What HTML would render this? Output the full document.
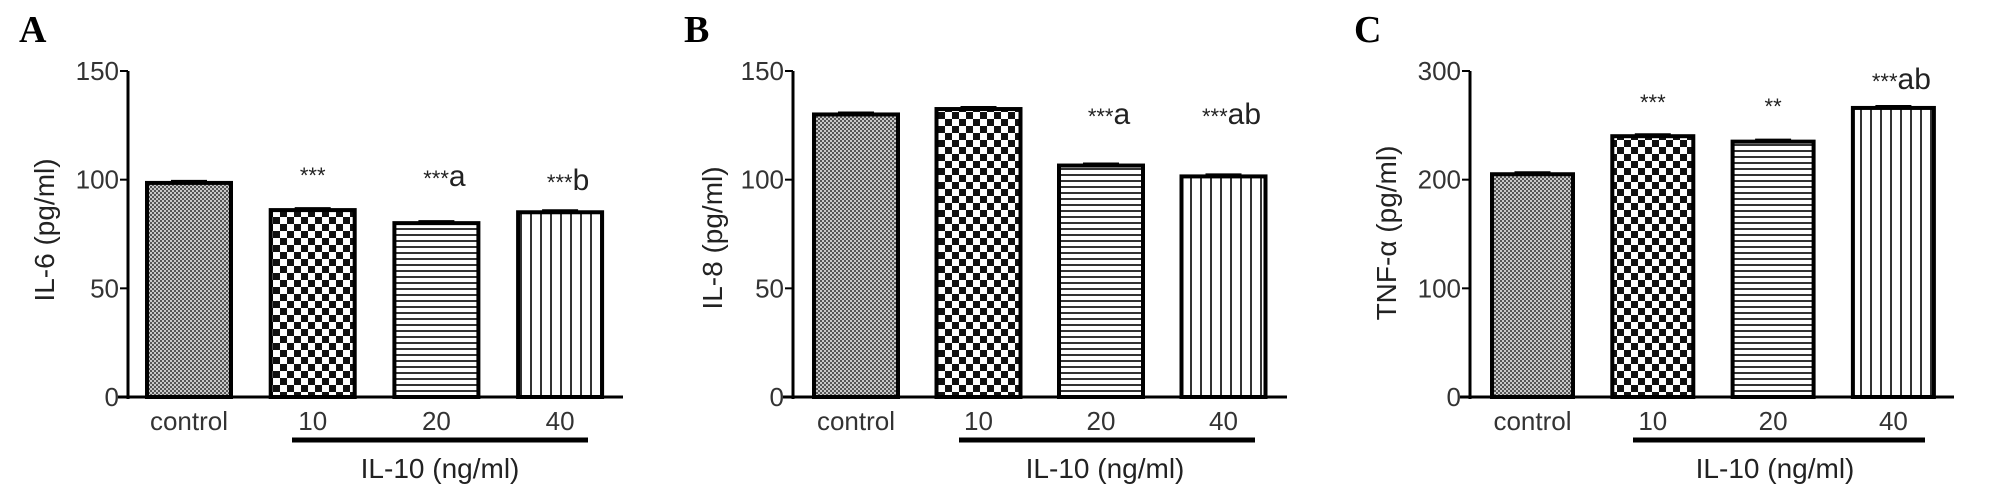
<!DOCTYPE html>
<html><head><meta charset="utf-8"><style>
html,body{margin:0;padding:0;background:#fff;}
svg{display:block;font-family:"Liberation Sans",sans-serif;}
</style></head><body>
<svg id="chart" width="2008" height="503" viewBox="0 0 2008 503" xmlns="http://www.w3.org/2000/svg">
<defs>
<pattern id="pat-control" width="4" height="4" patternUnits="userSpaceOnUse"><rect width="4" height="4" fill="#c8c8c8"/><rect width="2" height="2" fill="#555"/><rect x="2" y="2" width="2" height="2" fill="#555"/></pattern>
<pattern id="pat-10" width="14" height="14" patternUnits="userSpaceOnUse"><rect width="14" height="14" fill="#fff"/><rect width="7" height="7" fill="#111"/><rect x="7" y="7" width="7" height="7" fill="#111"/></pattern>
<pattern id="pat-20" width="6" height="6" patternUnits="userSpaceOnUse"><rect width="6" height="6" fill="#fff"/><rect width="6" height="2" fill="#333"/></pattern>
<pattern id="pat-40" width="10" height="10" patternUnits="userSpaceOnUse"><rect width="10" height="10" fill="#fff"/><rect width="2" height="10" fill="#333"/></pattern>
</defs>
</svg>
<script>
const categories = ["control","10","20","40"];
const il6Values = [98.5, 86, 80, 85];
const il8Values = [130, 132.5, 106.5, 101.5];
const tnfValues = [205, 240, 235, 266];
const il6Ticks = [0,50,100,150];
const il8Ticks = [0,50,100,150];
const tnfTicks = [0,100,200,300];
const il6Annot = ["","***","***a","***b"];
const il8Annot = ["","","***a","***ab"];
const tnfAnnot = ["","***","**","***ab"];

const NS="http://www.w3.org/2000/svg";
const svg=document.getElementById('chart');
function mk(tag,attrs,parent,text){const e=document.createElementNS(NS,tag);for(const k in attrs)e.setAttribute(k,attrs[k]);if(text!==undefined)e.textContent=text;(parent||svg).appendChild(e);return e;}
const pats=["pat-control","pat-10","pat-20","pat-40"];

function panel(cfg){
  const g=mk('g',{});
  
  
  const y0=397, yTop=71, max=cfg.ticks[cfg.ticks.length-1];
  const ys=v=>y0-(v/max)*(y0-yTop);
  const L=mk('text',{x:cfg.letterX,y:42,'font-family':'Liberation Serif, serif','font-weight':'bold','font-size':38},g,cfg.letter);
  
  
  const ya=mk('line',{x1:cfg.ax,y1:yTop,x2:cfg.ax,y2:y0+2,stroke:'#000','stroke-width':3},g);
  
  
  const xa=mk('line',{x1:cfg.ax-10,y1:y0,x2:cfg.axEnd,y2:y0,stroke:'#000','stroke-width':3},g);
  
  
  cfg.ticks.forEach(t=>{
    const tl=mk('line',{x1:cfg.ax-8,y1:ys(t),x2:cfg.ax,y2:ys(t),stroke:'#000','stroke-width':2},g);
    
    
    const tx=mk('text',{x:cfg.ax-9,y:ys(t)+9,'text-anchor':'end','font-size':26,fill:'#333'},g,String(t));
    
    
  });
  const yt=mk('text',{x:0,y:0,'text-anchor':'middle','font-size':28,fill:'#222',transform:`translate(${cfg.titleX},${cfg.titleY}) rotate(-90)`},g,cfg.title);
  
  
  const bw=cfg.bw, step=cfg.step;
  categories.forEach((c,i)=>{
    const x=cfg.first+i*step, v=cfg.values[i], top=ys(v);
    const r=mk('rect',{x:x,y:top,width:bw,height:y0-top,fill:`url(#${pats[i]})`,stroke:'#000','stroke-width':4},g);
    
    
    const eb=mk('line',{x1:x+bw/2-18,y1:top-2,x2:x+bw/2+18,y2:top-2,stroke:'#000','stroke-width':2},g);
    
    
    const lb=mk('text',{x:x+bw/2,y:430,'text-anchor':'middle','font-size':26,fill:'#333'},g,c);
    
    
    const a=cfg.annot[i];
    if(a){
      const stars=a.replace(/[a-z]/g,''), letters=a.replace(/\*/g,'');
      const t=mk('text',{x:x+bw/2+(letters?8:0),y:cfg.annotY[i],'text-anchor':'middle',fill:'#222'},g);
      
      
      mk('tspan',{'font-size':22},t,stars);
      if(letters) mk('tspan',{'font-size':30},t,letters);
    }
  });
  const br=mk('line',{x1:cfg.brX1,y1:440,x2:cfg.brX2,y2:440,stroke:'#000','stroke-width':5},g);
  
  
  const xt=mk('text',{x:cfg.xtX,y:478,'text-anchor':'middle','font-size':28,fill:'#222'},g,'IL-10 (ng/ml)');
  
  
}
panel({name:'panel-a-il6',letter:'A',letterX:19,ax:128,axEnd:623,ticks:il6Ticks,values:il6Values,annot:il6Annot,
  annotY:[0,183,186,190],title:'IL-6 (pg/ml)',titleX:54,titleY:230,first:147,step:123.7,bw:84,brX1:292,brX2:588,xtX:440});
panel({name:'panel-b-il8',letter:'B',letterX:684,ax:793,axEnd:1287,ticks:il8Ticks,values:il8Values,annot:il8Annot,
  annotY:[0,0,124,124],title:'IL-8 (pg/ml)',titleX:722,titleY:238,first:814,step:122.5,bw:84,brX1:959,brX2:1255,xtX:1105});
panel({name:'panel-c-tnf',letter:'C',letterX:1354,ax:1470,axEnd:1954,ticks:tnfTicks,values:tnfValues,annot:tnfAnnot,
  annotY:[0,110,114,89],title:'TNF-α (pg/ml)',titleX:1396,titleY:233,first:1492,step:120.3,bw:81,brX1:1633,brX2:1925,xtX:1775});
</script>
</body></html>
